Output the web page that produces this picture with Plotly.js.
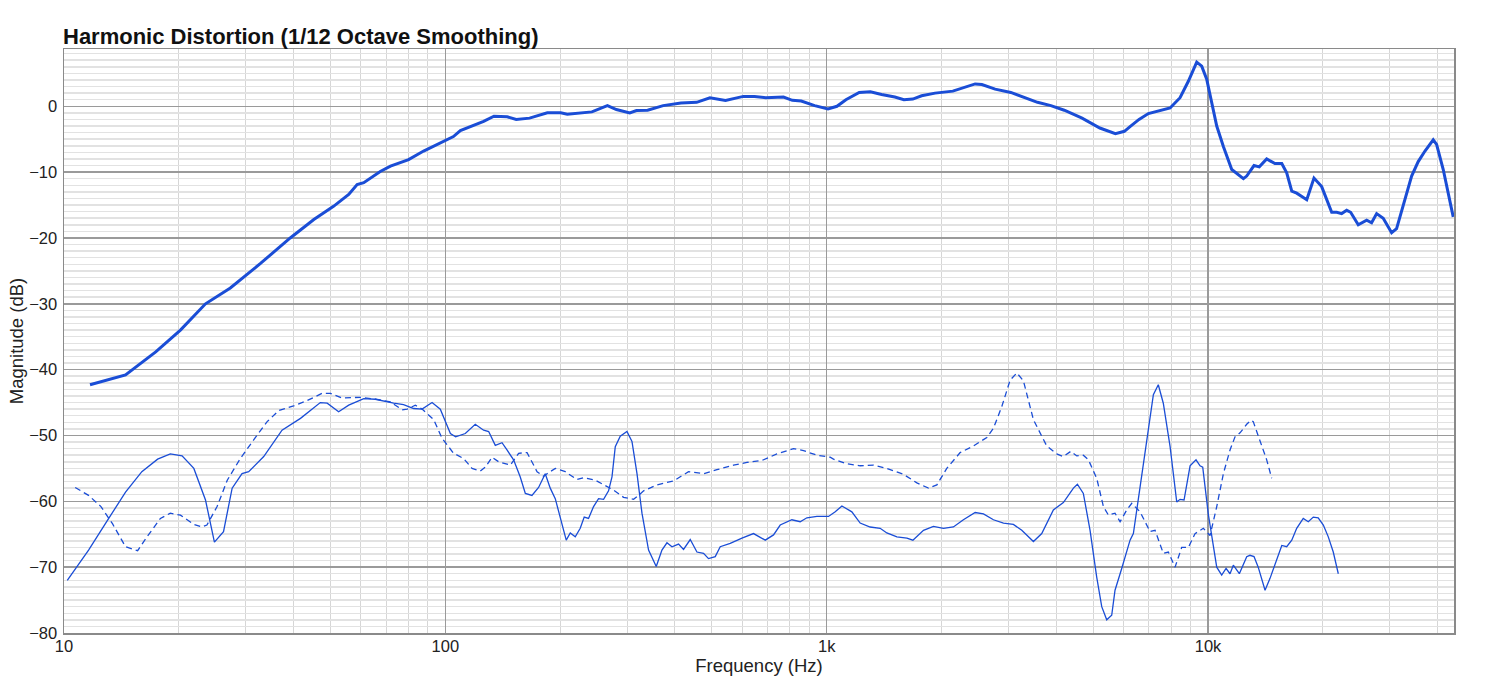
<!DOCTYPE html>
<html>
<head>
<meta charset="utf-8">
<script src="https://cdn.plot.ly/plotly-3.0.1.min.js"></script>
<style>
  html, body { margin: 0; padding: 0; background: #fff; }
  #chart { width: 1500px; height: 688px; }
</style>
</head>
<body>
<div id="chart"></div>
<script>
// fundamental (thick line)
var fundFreq = [11.7, 14.5, 17.4, 20.2, 23.5, 27.3, 32.7, 39.2, 45.2, 50.9, 55.8, 58.7, 61.1, 67.5, 71.8, 80.1, 87.7,
  97, 105, 109.5, 114, 126, 134.1, 145.3, 153.4, 166.3, 185.1, 200.7, 208.8, 242.3, 266.1, 280.9, 304.5, 317.1, 339.2,
  372.6, 414.8, 456, 494, 542.9, 604.6, 646.7, 692, 770.3, 812.8, 857.7, 929.9, 1008, 1064, 1123, 1217, 1302, 1393,
  1509, 1594, 1682, 1774, 1924, 2142, 2290, 2451, 2552, 2765, 3039, 3294, 3571, 3871, 4198, 4674, 5204, 5716, 6034,
  6245, 6593, 6975, 7406, 7953, 8445, 8879, 9340, 9626, 9920, 10220, 10540, 10970, 11540, 12380, 12630, 13200, 13630,
  14250, 14980, 15610, 16080, 16580, 17080, 18150, 18960, 19860, 21100, 21750, 22410, 23100, 23660, 24770, 26060,
  26850, 27680, 28800, 30300, 31220, 32830, 34190, 35580, 37060, 38950, 39750, 41380, 42230, 43950]
var fundDb = [-42.3, -40.8, -37.3, -34.0, -30.0, -27.6, -23.9, -20.0, -17.2, -15.2, -13.4, -11.9, -11.6, -9.9, -9.1, -8.1, -6.8,
  -5.6, -4.6, -3.7, -3.3, -2.3, -1.5, -1.6, -2.0, -1.8, -1.0, -1.0, -1.2, -0.85, 0.1, -0.5, -1.0, -0.65, -0.6,
  0.1, 0.5, 0.6, 1.3, 0.9, 1.5, 1.5, 1.3, 1.4, 0.9, 0.8, 0.1, -0.4, 0, 1.0, 2.1, 2.2, 1.8,
  1.4, 1.0, 1.1, 1.6, 2.0, 2.3, 2.8, 3.4, 3.3, 2.6, 2.1, 1.4, 0.6, 0.1, -0.6, -1.8, -3.3, -4.15, -3.8,
  -3.1, -2.0, -1.1, -0.75, -0.25, 1.3, 3.8, 6.7, 6.1, 4.1, 0.5, -3.0, -6.1, -9.6, -11.0, -10.6, -9.0, -9.2,
  -8.0, -8.7, -8.7, -10.1, -12.9, -13.2, -14.2, -10.9, -12.2, -16.1, -16.1, -16.3, -15.8, -16.1, -18.0, -17.3,
  -17.7, -16.3, -17.0, -19.2, -18.6, -14.2, -10.6, -8.4, -6.8, -5.1, -5.8, -9.6, -12.2, -16.8]

// 2nd harmonic (thin solid)
var h2Freq = [10.2, 11.6, 13.0, 14.5, 16.0, 17.6, 19.0, 20.4, 21.9, 23.5, 24.8, 26.2, 27.6, 29.3, 30.5, 33.4, 37.3, 41.7,
  47.0, 49.0, 52.5, 55.8, 61.1, 65.5, 73.2, 77.7, 82.6, 86.9, 92.3, 97.0, 103.1, 106.4, 112.8, 119.8, 126, 129.9,
  135.2, 140.8, 145.1, 151, 157.2, 162.1, 168.7, 175.6, 182.8, 188.4, 194.2, 200.1, 207.5, 212.6, 219.1, 225.8,
  231.3, 237.4, 244.7, 252.2, 260, 267.9, 273.5, 279, 287.5, 299.4, 308.6, 318.1, 327.8, 341.1, 357.3, 369.8,
  381.2, 392.9, 408.8, 421.3, 438.7, 456.8, 475.4, 489.9, 510.2, 525.8, 558.5, 599.5, 642.9, 690, 725.4, 755.3,
  810.5, 852.1, 887.4, 942.6, 1011, 1053, 1096, 1164, 1224, 1300, 1381, 1438, 1528, 1623, 1683, 1794, 1905, 2024,
  2149, 2283, 2451, 2577, 2737, 2908, 3087, 3248, 3484, 3664, 3930, 4175, 4436, 4544, 4710, 4905, 5106, 5263,
  5424, 5590, 5703, 5938, 6245, 6371, 6703, 6909, 7189, 7406, 7633, 7953, 8278, 8445, 8652, 8972, 9301, 9528,
  9685, 10020, 10220, 10540, 10860, 11150, 11420, 11650, 12080, 12630, 12880, 13200, 13540, 14110, 14540, 15140,
  15610, 16080, 16580, 17080, 17770, 18320, 18880, 19450, 20060, 20670, 21300, 21960]
var h2Db = [-72.0, -67.4, -62.9, -58.6, -55.5, -53.6, -52.8, -53.1, -55.0, -59.8, -66.2, -64.6, -58.0, -55.8, -55.5, -53.2, -49.2, -47.4,
  -45.0, -45.1, -46.4, -45.4, -44.4, -44.5, -45.1, -45.3, -45.9, -46.0, -45.0, -46.0, -49.7, -50.2, -49.7, -48.3, -49.2, -49.4,
  -51.5, -51.1, -52.2, -53.7, -56.3, -58.8, -59.1, -57.9, -55.8, -58.0, -59.6, -62.4, -65.9, -64.8, -65.4, -64.1,
  -62.4, -62.6, -60.8, -59.6, -59.7, -58.4, -56.3, -51.7, -50.1, -49.4, -50.9, -55.8, -61.8, -67.4, -69.9, -67.4,
  -66.3, -66.9, -66.5, -67.3, -65.8, -67.7, -67.9, -68.7, -68.4, -66.9, -66.4, -65.6, -64.9, -65.9, -65.1, -63.6,
  -62.8, -63.1, -62.5, -62.3, -62.3, -61.6, -60.7, -61.6, -63.3, -63.9, -64.1, -64.8, -65.4, -65.6, -65.9, -64.4, -63.8, -64.1,
  -63.9, -62.8, -61.7, -61.9, -62.8, -63.3, -63.5, -64.4, -66.1, -64.9, -61.3, -60.2, -58.0, -57.4, -58.8, -64.4, -71.5, -76.0,
  -78.0, -77.3, -73.5, -70.2, -65.9, -64.9, -56.0, -51.2, -43.8, -42.3, -45.1, -51.7, -60.1, -59.7, -59.8, -54.6, -53.7, -54.6,
  -54.8, -62.0, -65.4, -70.0, -71.2, -70.2, -71.0, -69.7, -71.0, -68.4, -68.2, -68.4, -70.0, -73.5, -71.7, -68.9,
  -66.7, -66.9, -65.9, -64.1, -62.6, -63.1, -62.4, -62.5, -63.6, -65.4, -67.7, -71.0]

// 3rd harmonic (thin dashed)
var h3Freq = [10.7, 11.6, 12.5, 13.4, 14.5, 15.6, 16.5, 17.9, 19.0, 20.2, 21.9, 23.0, 23.7, 25.2, 26.8, 29.0, 31.4, 34.1,
  36.6, 40.0, 43.4, 47.5, 50.0, 53.6, 59.9, 66.2, 71.8, 77.0, 79.4, 83.4, 86.9, 93.2, 98.0, 105.1, 111.7, 117.5,
  123.5, 127.3, 132.6, 138, 148.1, 155.7, 163.8, 168.7, 174, 181, 184.8, 194.2, 206.3, 221.4, 230.4, 247.3, 260,
  276.2, 293.4, 311.6, 321.1, 331.1, 358.9, 396.7, 434.2, 475.4, 515.4, 569.7, 617.8, 676.2, 740.3, 818.3, 869.6,
  942.6, 1021, 1042, 1129, 1224, 1327, 1438, 1590, 1724, 1849, 1945, 2065, 2238, 2426, 2630, 2737, 2879, 3027,
  3152, 3280, 3484, 3776, 4011, 4175, 4368, 4528, 4710, 4856, 5106, 5317, 5480, 5703, 5880, 6123, 6310, 6634,
  7046, 7262, 7633, 7868, 8195, 8531, 8879, 9246, 9721, 10120, 10540, 10970, 11420, 11770, 12130, 12630, 12940,
  13140, 13690, 14250, 14690]
var h3Db = [-57.9, -59.1, -60.8, -63.4, -66.9, -67.5, -65.4, -62.6, -61.8, -62.1, -63.5, -63.9, -63.6, -60.8, -56.8, -53.5, -50.7, -47.9,
  -46.2, -45.5, -44.7, -43.6, -43.6, -44.3, -44.2, -44.5, -44.9, -46.1, -46.0, -45.4, -46.0, -47.6, -50.4, -52.7, -53.5, -55.0,
  -55.4, -54.8, -53.3, -54.0, -54.5, -52.7, -52.6, -54.0, -55.5, -56.2, -55.8, -55.0, -55.5, -56.7, -56.4, -56.8, -57.5,
  -58.3, -59.4, -59.7, -59.1, -58.4, -57.5, -56.9, -55.5, -55.8, -55.2, -54.5, -54.1, -53.8, -52.8, -52.0, -52.3,
  -53.0, -53.3, -53.6, -54.3, -54.6, -54.5, -55.0, -55.9, -57.2, -58.0, -57.5, -55.0, -52.6, -51.6, -50.3, -48.9, -45.6, -41.6,
  -40.5, -41.7, -47.6, -51.6, -52.8, -53.2, -52.4, -53.1, -53.0, -53.7, -56.5, -60.8, -62.1, -61.8, -63.1, -61.3, -60.3, -61.6,
  -64.6, -64.4, -67.9, -67.7, -70.0, -67.0, -67.0, -64.9, -64.1, -65.2, -60.8, -55.8, -52.2, -50.2, -49.6, -48.3, -47.7,
  -47.9, -50.7, -53.7, -56.5]

var xTickVals = [10, 100, 1000, 10000]
var xTickText = ['10', '100', '1k', '10k']
var yTickVals = [-80, -70, -60, -50, -40, -30, -20, -10, 0]

var lineColor = '#1a4dd6'
var fontFam = 'Liberation Sans, Arial, Helvetica, sans-serif'

var traces = [
  { x: fundFreq, y: fundDb, type: 'scatter', mode: 'lines', line: { color: lineColor, width: 3 }, hoverinfo: 'skip' },
  { x: h2Freq, y: h2Db, type: 'scatter', mode: 'lines', line: { color: lineColor, width: 1.3 }, hoverinfo: 'skip' },
  { x: h3Freq, y: h3Db, type: 'scatter', mode: 'lines', line: { color: lineColor, width: 1.3, dash: '6px,4px' }, hoverinfo: 'skip' },
]

var layout = {
  width: 1500,
  height: 688,
  showlegend: false,
  paper_bgcolor: '#fff',
  plot_bgcolor: '#fff',
  margin: { l: 64, r: 46, t: 49, b: 55 },
  font: { family: fontFam, color: '#222' },
  title: {
    text: '<b>Harmonic Distortion (1/12 Octave Smoothing)</b>',
    font: { family: fontFam, size: 22, color: '#111' },
    xref: 'container', x: 63 / 1500, xanchor: 'left',
    yref: 'container', y: 1 - 36 / 688, yanchor: 'middle',
  },
  xaxis: {
    type: 'log',
    range: [1, 4.645],
    tickvals: xTickVals,
    ticktext: xTickText,
    ticks: '',
    ticklabelstandoff: -2,
    tickfont: { size: 16.5, color: '#222' },
    showgrid: true,
    gridcolor: '#9a9a9a',
    gridwidth: 1.5,
    minor: { dtick: 'D1', showgrid: true, gridcolor: '#d6d6d6', gridwidth: 1, ticks: '' },
    showline: true, mirror: true, linecolor: '#8a8a8a', linewidth: 1.5,
    zeroline: false,
    fixedrange: true,
    title: { text: 'Frequency (Hz)', font: { size: 18.5, color: '#222' }, standoff: 0 },
  },
  yaxis: {
    range: [-80, 8.7],
    tickvals: yTickVals,
    ticks: '',
    ticklabelstandoff: 2,
    tickfont: { size: 16.5, color: '#222' },
    showgrid: true,
    gridcolor: '#9a9a9a',
    gridwidth: 1.5,
    minor: { dtick: 1, showgrid: true, gridcolor: '#e2e2e2', gridwidth: 1.5, ticks: '' },
    showline: true, mirror: true, linecolor: '#8a8a8a', linewidth: 1.5,
    zeroline: false,
    fixedrange: true,
    title: { text: 'Magnitude (dB)', font: { size: 18.5, color: '#222' }, standoff: 0 },
  },
}

Plotly.newPlot('chart', traces, layout, { displayModeBar: false, staticPlot: true })
</script>
</body>
</html>
